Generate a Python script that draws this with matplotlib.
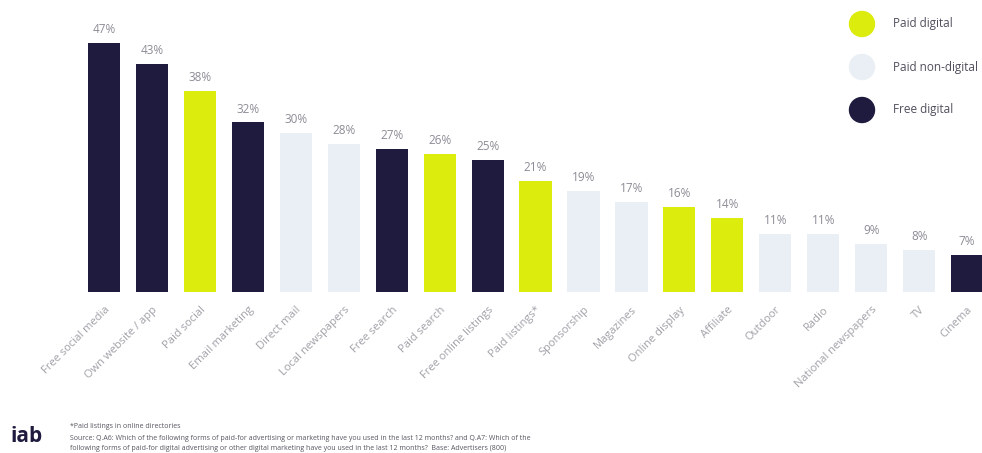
import matplotlib
matplotlib.use("Agg")
import matplotlib.pyplot as plt
from matplotlib.patches import Ellipse

categories = ["Free social media", "Own website / app", "Paid social", "Email marketing",
              "Direct mail", "Local newspapers", "Free search", "Paid search",
              "Free online listings", "Paid listings*", "Sponsorship", "Magazines",
              "Online display", "Affiliate", "Outdoor", "Radio", "National newspapers",
              "TV", "Cinema"]
values = [47, 43, 38, 32, 30, 28, 27, 26, 25, 21, 19, 17, 16, 14, 11, 11, 9, 8, 7]
groups = ["Free digital", "Free digital", "Paid digital", "Free digital",
          "Paid non-digital", "Paid non-digital", "Free digital", "Paid digital",
          "Free digital", "Paid digital", "Paid non-digital", "Paid non-digital",
          "Paid digital", "Paid digital", "Paid non-digital", "Paid non-digital",
          "Paid non-digital", "Paid non-digital", "Free digital"]
legend_labels = ["Paid digital", "Paid non-digital", "Free digital"]

colors = {"Paid digital": "#dcec0c", "Paid non-digital": "#e9eff4", "Free digital": "#1e1b3f"}
text_col = "#8c8c96"
font = ["Open Sans", "DejaVu Sans"]
plt.rcParams['font.family'] = font

W, H = 982, 453
fig = plt.figure(figsize=(W / 100, H / 100), dpi=100)
base_px = 292
top_val = 50
px_per = 5.3
ax = fig.add_axes([80 / W, (H - base_px) / H, 1 - 80 / W, top_val * px_per / H])
x = list(range(len(categories)))
ax.bar(x, values, width=0.67, color=[colors[g] for g in groups])
ax.set_xlim(-0.5, 18.31)
ax.set_ylim(0, top_val)
for xi, v in zip(x, values):
    ax.text(xi, v + 1.3, f"{v}%", ha="center", va="bottom", fontsize=8.5, color=text_col)
ax.set_xticks(x)
ax.set_xticklabels(categories, rotation=45, ha="right", rotation_mode="anchor",
                   fontsize=8, color="#a0a0a8")
ax.tick_params(axis="x", length=0, pad=9)
ax.set_yticks([])
for s in ax.spines.values():
    s.set_visible(False)

# legend
ys = [24, 67, 110]
for lab, yp in zip(legend_labels, ys):
    fig.patches.append(Ellipse((862 / W, (H - yp) / H), 25 / W, 25 / H, transform=fig.transFigure,
                               color=colors[lab], zorder=5))
    fig.text(893 / W, (H - yp) / H, lab, fontsize=8.5, color="#50505e", va="center", ha="left")

# footer
fig.text(10 / W, (H - 437) / H, "iab", fontsize=15, fontweight="bold", color="#1e1b3f",
         va="center", ha="left")
fig.text(70 / W, (H - 427) / H, "*Paid listings in online directories", fontsize=5,
         color="#555560", va="center")
fig.text(70 / W, (H - 438) / H,
         "Source: Q.A6: Which of the following forms of paid-for advertising or marketing have you used in the last 12 months? and Q.A7: Which of the",
         fontsize=5, color="#555560", va="center")
fig.text(70 / W, (H - 449) / H,
         "following forms of paid-for digital advertising or other digital marketing have you used in the last 12 months?  Base: Advertisers (800)",
         fontsize=5, color="#555560", va="center")

fig.savefig("out.png", dpi=100)
